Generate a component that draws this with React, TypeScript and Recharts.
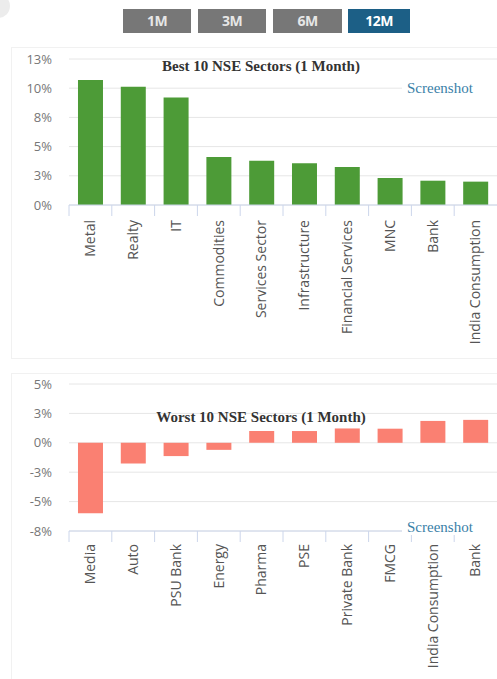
import React from "react";
import { BarChart, Bar, XAxis, YAxis, CartesianGrid } from "recharts";

const periods = ["1M", "3M", "6M", "12M"];
const activePeriod = "12M";

const bestCategories = ["Metal", "Realty", "IT", "Commodities", "Services Sector", "Infrastructure", "Financial Services", "MNC", "Bank", "India Consumption"];
const bestValues = [10.7, 10.13, 9.2, 4.11, 3.79, 3.57, 3.25, 2.31, 2.08, 2.0];
const bestTicks = [0, 2.5, 5, 7.5, 10, 12.5];
const bestTickLabels = ["0%", "3%", "5%", "8%", "10%", "13%"];

const worstCategories = ["Media", "Auto", "PSU Bank", "Energy", "Pharma", "PSE", "Private Bank", "FMCG", "India Consumption", "Bank"];
const worstValues = [-6.0, -1.75, -1.13, -0.6, 1.0, 1.0, 1.22, 1.2, 1.86, 1.95];
const worstTicks = [-7.5, -5, -2.5, 0, 2.5, 5];
const worstTickLabels = ["-8%", "-5%", "-3%", "0%", "3%", "5%"];

const W = 497;
const YW = 69;
const PLOT_W = W - YW;

const makeTick = (n: number, labelOffset: number) => (props: any) => {
  const { x, y, payload } = props;
  const band = PLOT_W / n;
  const ly = y + labelOffset;
  return (
    <g>
      <line x1={x - band / 2} x2={x - band / 2} y1={y} y2={y + 11} stroke="#ccd6eb" strokeWidth={1} />
      <text
        x={x}
        y={ly}
        transform={`rotate(-90 ${x} ${ly})`}
        textAnchor="end"
        dy="0.35em"
        fontFamily="'Open Sans', sans-serif"
        fontSize={14}
        fill="#555"
      >
        {payload.value}
      </text>
    </g>
  );
};

const fmt = (ticks: number[], labels: string[]) => (v: number) => {
  const i = ticks.indexOf(v);
  return i >= 0 ? labels[i] : String(v);
};

const titleStyle: React.CSSProperties = {
  position: "absolute",
  fontFamily: "'Liberation Serif', 'Times New Roman', serif",
  fontWeight: "bold",
  fontSize: 15,
  color: "#333",
  whiteSpace: "nowrap",
  transform: "translateX(-50%)",
  lineHeight: "16px",
};

const shotStyle: React.CSSProperties = {
  position: "absolute",
  fontFamily: "'Liberation Serif', 'Times New Roman', serif",
  fontSize: 15,
  color: "#3a7fa8",
  background: "#fff",
  whiteSpace: "nowrap",
  lineHeight: "16px",
  paddingLeft: 5,
  width: 90,
};

const faint = "#f1f1f1";

export default function App() {
  const bestData = bestCategories.map((c, i) => ({ name: c, value: bestValues[i] }));
  const worstData = worstCategories.map((c, i) => ({ name: c, value: worstValues[i] }));
  const btnX = [123, 198, 273, 348];
  const btnW = [68, 68, 69, 62];
  return (
    <div style={{ position: "absolute", left: 0, top: 0, width: W, height: 679, background: "#fff", overflow: "hidden" }}>
      <div style={{ position: "absolute", left: -14, top: -6, width: 24, height: 24, borderRadius: 12, background: "#ececec" }} />
      {periods.map((p, i) => (
        <div
          key={p}
          style={{
            position: "absolute",
            left: btnX[i],
            top: 9,
            width: btnW[i],
            height: 24,
            background: p === activePeriod ? "#1c5f86" : "#777777",
            color: p === activePeriod ? "#ffffff" : "#e6e6e6",
            fontFamily: "'Open Sans', sans-serif",
            fontWeight: "bold",
            fontSize: 14,
            letterSpacing: -0.5,
            lineHeight: "24px",
            textAlign: "center",
          }}
        >
          {p}
        </div>
      ))}

      <div style={{ position: "absolute", left: 11, top: 47, width: 1, height: 312, background: faint }} />
      <div style={{ position: "absolute", left: 11, top: 47, width: 486, height: 1, background: faint }} />
      <div style={{ position: "absolute", left: 11, top: 358, width: 486, height: 1, background: faint }} />
      <div style={{ position: "absolute", left: 11, top: 373, width: 1, height: 306, background: faint }} />
      <div style={{ position: "absolute", left: 11, top: 373, width: 486, height: 1, background: faint }} />

      <div style={{ position: "absolute", left: 0, top: 0 }}>
        <BarChart width={W} height={360} data={bestData} margin={{ top: 59, right: 0, bottom: 0, left: 0 }} barCategoryGap="21%">
          <CartesianGrid vertical={false} stroke="#e6e6e6" />
          <XAxis
            dataKey="name"
            interval={0}
            height={155}
            tickSize={0}
            tickMargin={0}
            tickLine={false}
            axisLine={{ stroke: "#ccd6eb" }}
            tick={makeTick(bestCategories.length, 15)}
          />
          <YAxis
            width={YW}
            domain={[0, 12.5]}
            ticks={bestTicks}
            interval={0}
            tickFormatter={fmt(bestTicks, bestTickLabels)}
            axisLine={false}
            tickLine={false}
            tickSize={0}
            tickMargin={17}
            tick={{ fontFamily: "'Open Sans', sans-serif", fontSize: 13, fill: "#777" }}
          />
          <Bar dataKey="value" fill="#4d9b37" isAnimationActive={false} />
        </BarChart>
      </div>

      <div style={{ position: "absolute", left: 0, top: 325 }}>
        <BarChart width={W} height={354} data={worstData} margin={{ top: 59, right: 0, bottom: 0, left: 0 }} barCategoryGap="21%">
          <CartesianGrid vertical={false} stroke="#e6e6e6" />
          <XAxis
            dataKey="name"
            interval={0}
            height={148}
            tickSize={0}
            tickMargin={0}
            tickLine={false}
            axisLine={{ stroke: "#ccd6eb" }}
            tick={makeTick(worstCategories.length, 13)}
          />
          <YAxis
            width={YW}
            domain={[-7.5, 5]}
            ticks={worstTicks}
            interval={0}
            tickFormatter={fmt(worstTicks, worstTickLabels)}
            axisLine={false}
            tickLine={false}
            tickSize={0}
            tickMargin={17}
            tick={{ fontFamily: "'Open Sans', sans-serif", fontSize: 13, fill: "#777" }}
          />
          <Bar dataKey="value" fill="#fa8072" isAnimationActive={false} />
        </BarChart>
      </div>

      <div style={{ ...titleStyle, left: 261, top: 58 }}>Best 10 NSE Sectors (1 Month)</div>
      <div style={{ ...shotStyle, left: 402, top: 80 }}>Screenshot</div>
      <div style={{ ...titleStyle, left: 261, top: 409 }}>Worst 10 NSE Sectors (1 Month)</div>
      <div style={{ ...shotStyle, left: 402, top: 519 }}>Screenshot</div>
    </div>
  );
}
